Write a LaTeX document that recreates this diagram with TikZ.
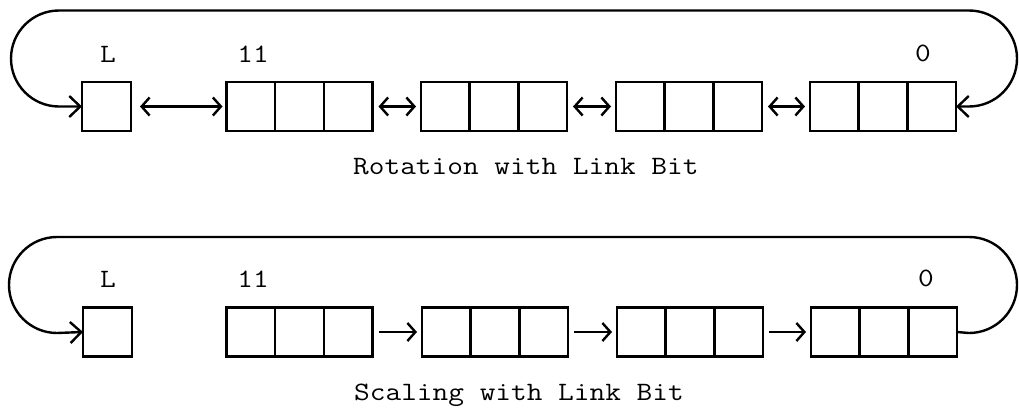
\documentclass[tikz,border=0pt]{standalone}
\usepackage{fontspec}
\usetikzlibrary{arrows.meta}
% wide typewriter lettering
\newcommand{\wtt}[1]{\scalebox{1.15}[1]{#1}}
\begin{document}
\begin{tikzpicture}[x=1pt,y=-1pt,
  line width=2.4pt,
  tw/.style={font=\ttfamily\fontsize{26.5}{30}\selectfont, inner sep=0pt},
  bit/.style={draw, minimum width=49pt, minimum height=49pt, inner sep=0pt, outer sep=0pt},
  reg/.style={draw, minimum width=146pt, minimum height=49pt, inner sep=0pt, outer sep=0pt,
    path picture={
      \draw ([xshift=-24.33pt]path picture bounding box.north) -- ([xshift=-24.33pt]path picture bounding box.south);
      \draw ([xshift=24.33pt]path picture bounding box.north) -- ([xshift=24.33pt]path picture bounding box.south);
    }},
  link/.style={shorten <=6pt, shorten >=5pt},
  tip/.style={arrows={-Straight Barb[length=8pt,width=18pt]}},
  dtip/.style={arrows={Straight Barb[length=8pt,width=18pt]-Straight Barb[length=8pt,width=18pt]}},
  looptip/.style={arrows={-Straight Barb[length=11pt,width=21pt]}},
  dlooptip/.style={arrows={Straight Barb[length=11pt,width=21pt]-Straight Barb[length=11pt,width=21pt]}}
]
\useasboundingbox (0,0) rectangle (1019,407);

% ---- rotation ----
\node[bit] (L1) at (106.5,106.5) {};
\node[reg] (R1a) at (299.5,106.5) {};
\node[reg] (R1b) at (494,106.5) {};
\node[reg] (R1c) at (689,106.5) {};
\node[reg] (R1d) at (883,106.5) {};

\node[tw, anchor=base] (lblL1) at (108,62) {\wtt{L}};
\node[tw, anchor=base] (lbl11a) at (253,62) {\wtt{11}};
\node[tw, anchor=base] (lbl0a) at (923,61) {\wtt{0}};

\draw[dtip, shorten <=9pt, shorten >=4pt] (L1.east) -- (R1a.west);
\draw[dtip, link] (R1a.east) -- (R1b.west);
\draw[dtip, link] (R1b.east) -- (R1c.west);
\draw[dtip, link] (R1c.east) -- (R1d.west);

\draw[dlooptip] (R1d.east) -- (969,106.5) arc[start angle=90, end angle=-90, radius=48]
  -- (59,10.5) arc[start angle=-90, end angle=-270, radius=48] -- (L1.west);

\node[tw, anchor=base west] (cap1) at (352,174) {\wtt{Rotation with Link Bit}};

% ---- scaling ----
\node[bit] (L2) at (107.5,332) {};
\node[reg] (R2a) at (299.5,332) {};
\node[reg] (R2b) at (495,332) {};
\node[reg] (R2c) at (690,332) {};
\node[reg] (R2d) at (884,332) {};

\node[tw, anchor=base] (lblL2) at (108,287) {\wtt{L}};
\node[tw, anchor=base] (lbl11b) at (253,287) {\wtt{11}};
\node[tw, anchor=base] (lbl0b) at (926,286) {\wtt{0}};

\draw[tip, link] (R2a.east) -- (R2b.west);
\draw[tip, link] (R2b.east) -- (R2c.west);
\draw[tip, link] (R2c.east) -- (R2d.west);

\draw[looptip] (R2d.east) -- (969,333) arc[start angle=90, end angle=-90, radius=48]
  -- (57,237) arc[start angle=-90, end angle=-270, radius=48] -- (L2.west);

\node[tw, anchor=base west] (cap2) at (353,400) {\wtt{Scaling with Link Bit}};
\end{tikzpicture}
\end{document}
